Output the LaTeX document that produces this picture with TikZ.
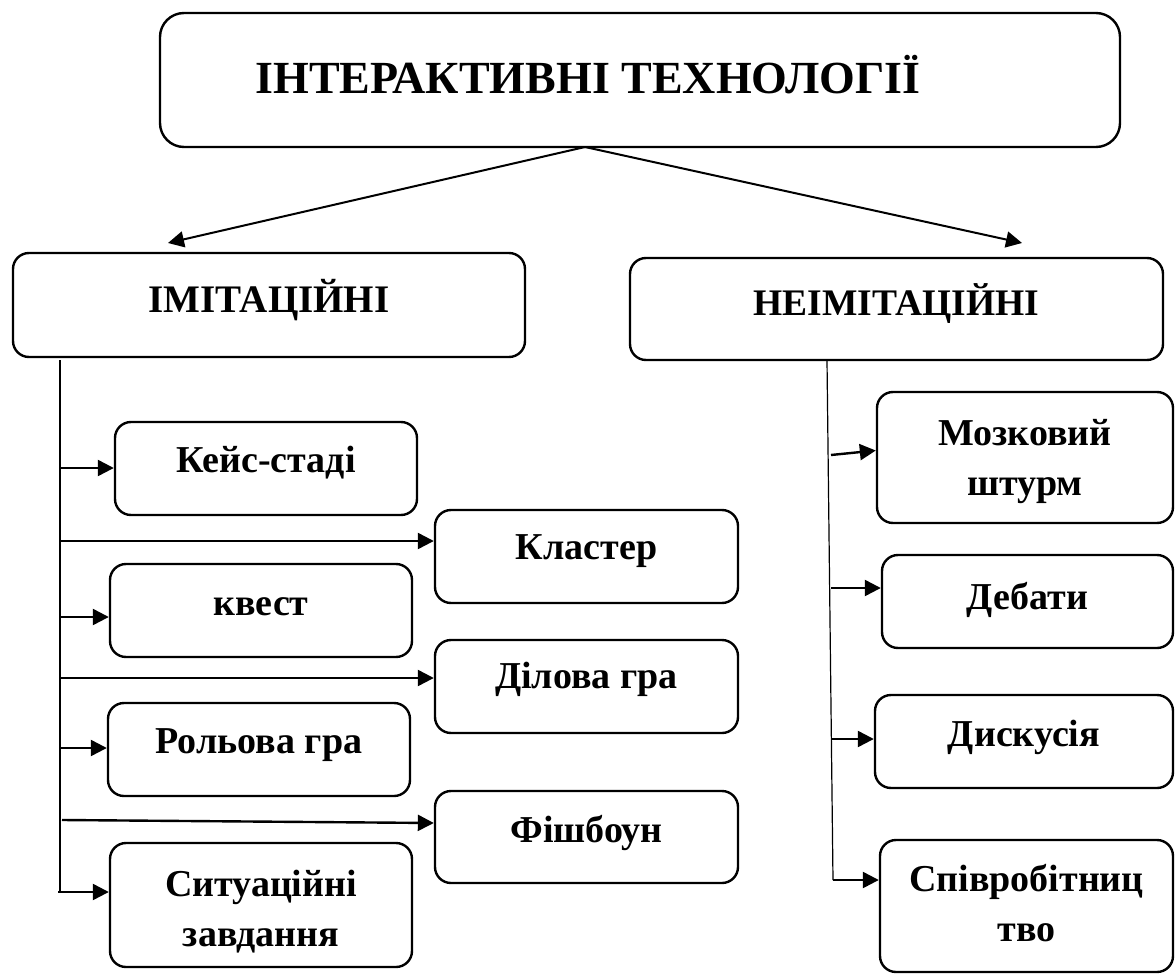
\documentclass[tikz,border=0pt]{standalone}
\usepackage{fontspec}
\setmainfont{Liberation Serif}
\usetikzlibrary{arrows.meta}
\newcommand{\twolines}[2]{\begin{tabular}{@{}c@{}}#1\\#2\end{tabular}}
\begin{document}
\begin{tikzpicture}[x=1pt,y=-1pt,
  box/.style={draw,line width=2.4pt,rounded corners=16pt,inner sep=0pt,
    font=\bfseries\fontsize{38}{50}\selectfont},
  headbox/.style={box,font=\bfseries\fontsize{39}{47}\selectfont},
  titlebox/.style={box,rounded corners=24pt,font=\bfseries\fontsize{46}{52}\selectfont},
  arr/.style={-{Triangle[length=16pt,width=16pt]},line width=2.4pt},
  trunk/.style={line width=1.2pt}]
\useasboundingbox (0,0) rectangle (1176,974);

% title
\node[titlebox,minimum width=960pt,minimum height=134pt] (top) at (640,80) {\hspace{-104pt}\raisebox{5pt}[\height][\depth]{ІНТЕРАКТИВНІ ТЕХНОЛОГІЇ}};

% second level
\node[headbox,minimum width=512pt,minimum height=104pt] (imit) at (269,305) {\raisebox{19pt}{ІМІТАЦІЙНІ}};
\node[headbox,minimum width=533pt,minimum height=102pt,font=\bfseries\fontsize{37.5}{45}\selectfont] (neimit) at (896.5,309) {\raisebox{18pt}{НЕІМІТАЦІЙНІ}};

% left branch boxes
\node[box,minimum width=302pt,minimum height=93pt] (kejs) at (266,468.5) {\raisebox{18pt}{Кейс-стаді}};
\node[box,minimum width=303pt,minimum height=93pt] (klaster) at (586.5,556.5) {\raisebox{18pt}{Кластер}};
\node[box,minimum width=302pt,minimum height=93pt] (kvest) at (261,610.5) {\raisebox{8pt}{квест}};
\node[box,minimum width=303pt,minimum height=93pt] (dilova) at (586.5,686.5) {\raisebox{22pt}{Ділова гра}};
\node[box,minimum width=302pt,minimum height=93pt] (rolova) at (259,749.5) {\raisebox{16pt}{Рольова гра}};
\node[box,minimum width=303pt,minimum height=92pt] (fish) at (586.5,837) {\raisebox{16pt}{Фішбоун}};
\node[box,minimum width=302pt,minimum height=124pt] (sit) at (261,905) {\raisebox{-6pt}[\height][\depth]{\twolines{Ситуаційні}{завдання}}};

% right branch boxes
\node[box,minimum width=296pt,minimum height=131pt] (mozk) at (1025,457.5) {\raisebox{-3pt}[\height][\depth]{\twolines{Мозковий}{штурм}}};
\node[box,minimum width=291pt,minimum height=93pt] (debaty) at (1027.5,601.5) {\raisebox{12pt}{Дебати}};
\node[box,minimum width=298pt,minimum height=93pt] (dysk) at (1024,741.5) {\raisebox{16pt}{Дискусія}};
\node[box,minimum width=293pt,minimum height=132pt] (spivr) at (1026.5,906) {\twolines{Співробітниц}{тво}};

% top arrows
\coordinate (apex) at (585,147);
\coordinate (endL) at (168,243);
\coordinate (endR) at (1022,243);
\draw[arr,line width=2pt] (apex) -- (endL);
\draw[arr,line width=2pt] (apex) -- (endR);

% left trunk
\coordinate (lt) at (60,360);
\coordinate (lb) at (60,893);
\draw[trunk] (lt) -- (lb);
\coordinate (l1) at (60,468);
\coordinate (l2) at (60,541);
\coordinate (l3) at (60,617);
\coordinate (l4) at (60,678);
\coordinate (l5) at (60,748);
\coordinate (l6) at (62,820);
\coordinate (l7) at (58,892);
\draw[arr] (l1) -- (l1 -| kejs.west);
\draw[arr] (l2) -- (l2 -| klaster.west);
\draw[arr] (l3) -- (l3 -| kvest.west);
\draw[arr] (l4) -- (l4 -| dilova.west);
\draw[arr] (l5) -- (l5 -| rolova.west);
\draw[arr] (l6) -- ([yshift=14pt]fish.west);
\draw[arr] (l7) -- (l7 -| sit.west);

% right trunk
\coordinate (rt) at (827,360);
\coordinate (rb) at (833,880);
\draw[trunk] (rt) -- (rb);
\coordinate (r1) at (831,455);
\coordinate (r2) at (831,588);
\coordinate (r3) at (832,739);
\coordinate (r4) at (833,880);
\draw[arr] (r1) -- ([yshift=7pt]mozk.west);
\draw[arr] (r2) -- (r2 -| debaty.west);
\draw[arr] (r3) -- (r3 -| dysk.west);
\draw[arr] (r4) -- (r4 -| spivr.west);
\end{tikzpicture}
\end{document}
